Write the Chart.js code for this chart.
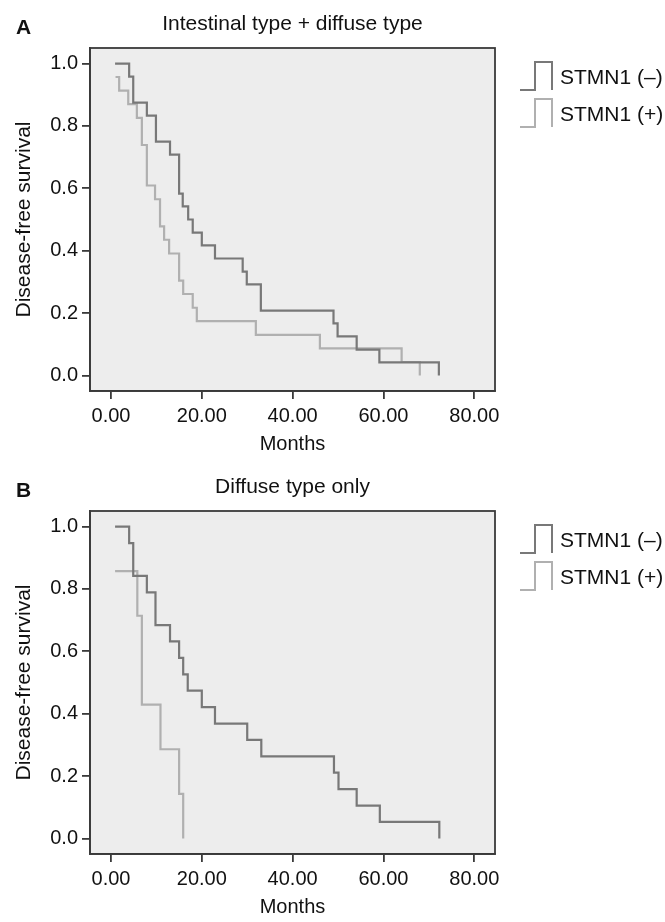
<!DOCTYPE html>
<html>
<head>
<meta charset="utf-8">
<script src="https://cdn.jsdelivr.net/npm/chart.js@4.4.0/dist/chart.umd.min.js"></script>
<style>
  body { margin: 0; background: #fff; }
  .panel { position: relative; width: 665px; }
</style>
</head>
<body>
<div class="panel"><canvas id="chartA" width="665" height="463"></canvas></div>
<div class="panel"><canvas id="chartB" width="665" height="459"></canvas></div>
<script>
// Panel A: intestinal + diffuse type
const monthsA_neg = [0.9, 4.0, 4.9, 7.9, 9.9, 13.0, 15.0, 15.8, 17.0, 18.0, 20.0, 22.9, 29.0, 29.9, 33.0, 49.0, 49.9, 54.1, 59.1, 72.2];
const survA_neg   = [1.0, 0.958, 0.875, 0.833, 0.75, 0.708, 0.583, 0.542, 0.5, 0.458, 0.417, 0.375, 0.333, 0.292, 0.208, 0.167, 0.125, 0.083, 0.042, 0.0];
const monthsA_pos = [1.0, 1.8, 3.8, 5.7, 6.8, 7.9, 9.7, 10.8, 11.7, 12.8, 15.0, 15.9, 18.0, 18.9, 31.9, 46.0, 64.0, 68.0];
const survA_pos   = [0.957, 0.913, 0.870, 0.826, 0.739, 0.609, 0.565, 0.478, 0.435, 0.391, 0.304, 0.261, 0.217, 0.174, 0.130, 0.087, 0.043, 0.0];

// Panel B: diffuse type only
const monthsB_neg = [0.9, 4.0, 4.9, 7.9, 9.8, 13.0, 15.0, 15.9, 16.9, 20.0, 22.9, 30.0, 33.1, 49.1, 50.1, 54.1, 59.2, 72.3];
const survB_neg   = [1.0, 0.947, 0.842, 0.789, 0.684, 0.632, 0.579, 0.526, 0.474, 0.421, 0.368, 0.316, 0.263, 0.211, 0.158, 0.105, 0.053, 0.0];
const monthsB_pos = [0.9, 5.8, 6.8, 10.9, 15.0, 15.9];
const survB_pos   = [0.857, 0.714, 0.429, 0.286, 0.143, 0.0];

const seriesLabels = ['STMN1 (\u2013)', 'STMN1 (+)'];
const xTicks = [0, 20, 40, 60, 80];
const yTicks = [0, 0.2, 0.4, 0.6, 0.8, 1.0];

const FONT = '"Liberation Sans", Arial, sans-serif';
const DARK = '#787878';
const LIGHT = '#b0b0b0';

function toPoints(months, surv) {
  return months.map((m, i) => ({ x: m, y: surv[i] }));
}

// grey plot background, frame, panel letter, title and step legend
const decor = {
  id: 'decor',
  beforeDraw(chart) {
    const { ctx, chartArea: a } = chart;
    ctx.save();
    ctx.fillStyle = '#ededed';
    ctx.fillRect(a.left, a.top, a.right - a.left, a.bottom - a.top);
    ctx.restore();
  },
  afterDraw(chart, args, opts) {
    const { ctx, chartArea: a } = chart;
    ctx.save();
    ctx.strokeStyle = '#3a3a3a';
    ctx.lineWidth = 1.8;
    ctx.strokeRect(a.left, a.top, a.right - a.left, a.bottom - a.top);

    ctx.fillStyle = '#111';
    ctx.textBaseline = 'middle';
    ctx.font = 'bold 21px ' + FONT;
    ctx.textAlign = 'left';
    ctx.fillText(opts.letter, 16, 28);

    ctx.font = '21px ' + FONT;
    ctx.textAlign = 'center';
    ctx.fillText(opts.title, (a.left + a.right) / 2, 24);

    // legend
    chart.data.datasets.forEach((ds, i) => {
      const top = 62 + i * 37, bot = top + 28;
      const x0 = a.right + 25, xm = x0 + 15, x1 = x0 + 32;
      ctx.strokeStyle = ds.borderColor;
      ctx.lineWidth = 2;
      ctx.beginPath();
      ctx.moveTo(x0, bot);
      ctx.lineTo(xm, bot);
      ctx.lineTo(xm, top);
      ctx.lineTo(x1, top);
      ctx.lineTo(x1, bot);
      ctx.stroke();
      ctx.fillStyle = '#111';
      ctx.textAlign = 'left';
      ctx.font = '21px ' + FONT;
      ctx.fillText(ds.label, x1 + 8, top + 16);
    });
    ctx.restore();
  }
};

function makeChart(id, letter, title, neg, pos, scaleH, titlePad) {
  return new Chart(document.getElementById(id), {
    type: 'line',
    data: {
      datasets: [
        { label: seriesLabels[0], data: neg, borderColor: DARK, borderWidth: 2.2, stepped: 'before', pointRadius: 0, fill: false },
        { label: seriesLabels[1], data: pos, borderColor: LIGHT, borderWidth: 2.2, stepped: 'before', pointRadius: 0, fill: false }
      ]
    },
    options: {
      responsive: false,
      animation: false,
      devicePixelRatio: 1,
      layout: { padding: { left: 0, right: 170, top: 48, bottom: 0 } },
      plugins: {
        legend: { display: false },
        tooltip: { enabled: false },
        decor: { letter: letter, title: title }
      },
      scales: {
        x: {
          type: 'linear',
          min: -4.62,
          max: 84.56,
          afterBuildTicks: s => { s.ticks = xTicks.map(v => ({ value: v })); },
          afterFit: s => { s.height = scaleH; },
          grid: { drawOnChartArea: false, drawTicks: true, tickLength: 8, color: '#3a3a3a', lineWidth: 1.8 },
          border: { display: true, color: '#3a3a3a', width: 1.8 },
          ticks: { color: '#111', font: { family: FONT, size: 20 }, padding: 5, callback: v => v.toFixed(2) },
          title: { display: true, text: 'Months', color: '#111', font: { family: FONT, size: 20 }, padding: { bottom: titlePad } }
        },
        y: {
          min: -0.05,
          max: 1.05,
          afterBuildTicks: s => { s.ticks = yTicks.map(v => ({ value: v })); },
          afterFit: s => { s.width = 90; },
          grid: { drawOnChartArea: false, drawTicks: true, tickLength: 8, color: '#3a3a3a', lineWidth: 1.8 },
          border: { display: true, color: '#3a3a3a', width: 1.8 },
          ticks: { color: '#111', font: { family: FONT, size: 20 }, padding: 4, callback: v => v.toFixed(1) },
          title: { display: true, text: 'Disease-free survival', color: '#111', font: { family: FONT, size: 21 }, padding: { top: 12 } }
        }
      }
    },
    plugins: [decor]
  });
}

makeChart('chartA', 'A', 'Intestinal type + diffuse type', toPoints(monthsA_neg, survA_neg), toPoints(monthsA_pos, survA_pos), 72, 7);
makeChart('chartB', 'B', 'Diffuse type only', toPoints(monthsB_neg, survB_neg), toPoints(monthsB_pos, survB_pos), 68, 3);
</script>
</body>
</html>
